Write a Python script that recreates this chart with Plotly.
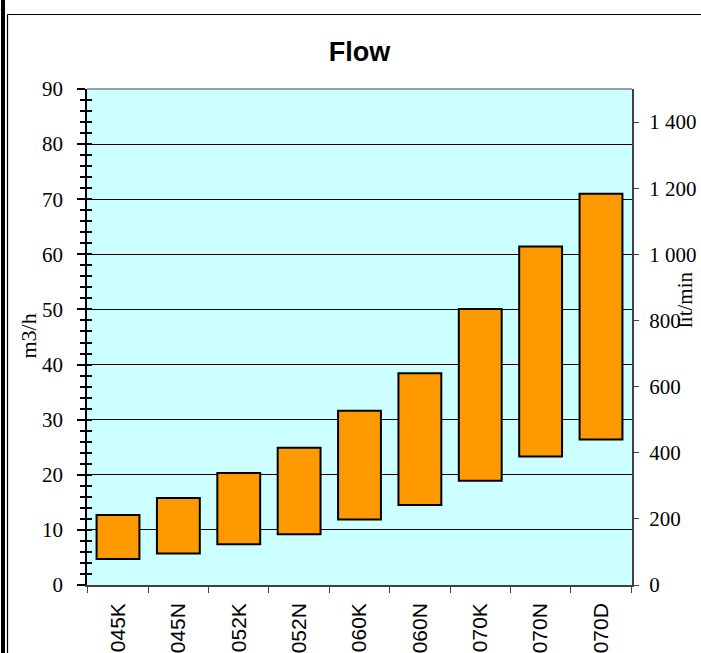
import plotly.graph_objects as go

# ---- data ----
categories = ["045K", "045N", "052K", "052N", "060K", "060N", "070K", "070N", "070D"]
flow_min = [4.7, 5.7, 7.4, 9.2, 11.9, 14.5, 18.9, 23.3, 26.4]      # m3/h
flow_max = [12.7, 15.8, 20.3, 24.9, 31.6, 38.4, 50.1, 61.4, 71.0]  # m3/h
left_range = [0, 90]
right_range = [0, 1500]  # lit/min (90 m3/h = 1500 lit/min)
right_tick_vals = [0, 200, 400, 600, 800, 1000, 1200, 1400]
right_tick_text = ["0", "200", "400", "600", "800", "1 000", "1 200", "1 400"]

W, H = 701, 653
L, R, T, B = 87, 69, 89, 68
PW, PH = W - L - R, H - T - B


def px_x(px):
    return (px - L) / PW


def px_y(py):
    return (H - B - py) / PH


SERIF = "Liberation Serif, Times New Roman, serif"
SANS = "Liberation Sans, Arial, sans-serif"

fig = go.Figure()
fig.add_trace(go.Bar(
    x=categories,
    y=[hi - lo for lo, hi in zip(flow_min, flow_max)],
    base=flow_min,
    marker=dict(color="#FF9900", line=dict(color="black", width=2)),
    showlegend=False,
    hoverinfo="skip",
))
# helper invisible traces so overlay axes are drawn
fig.add_trace(go.Scatter(x=categories, y=[None] * len(categories), yaxis="y2",
                         showlegend=False, hoverinfo="skip"))
fig.add_trace(go.Scatter(x=categories, y=[None] * len(categories), yaxis="y3",
                         showlegend=False, hoverinfo="skip"))

fig.update_layout(
    width=W, height=H,
    margin=dict(l=L, r=R, t=T, b=B, autoexpand=False),
    paper_bgcolor="white",
    plot_bgcolor="#CCFFFF",
    bargap=0.29,
    title=dict(text="<b>Flow</b>", x=0.5, xref="paper", xanchor="center",
               y=1 - 52 / H, yref="container", yanchor="middle",
               font=dict(family=SANS, size=27, color="black")),
    xaxis=dict(
        type="category", tickson="boundaries", ticks="outside", ticklen=6,
        tickcolor="#404040", tickwidth=1, showline=True, linecolor="#404040",
        linewidth=1.5, showgrid=False, tickangle=-90,
        tickfont=dict(family=SANS, size=21, color="black"),
        ticklabelstandoff=8,
    ),
    yaxis=dict(
        range=left_range, dtick=10, ticks="outside", ticklen=8, tickwidth=1.5,
        tickcolor="black", showline=True, linecolor="black", linewidth=1.5,
        showgrid=True, gridcolor="black", gridwidth=1, zeroline=False,
        tickfont=dict(family=SERIF, size=21, color="black"),
        ticklabelstandoff=10,
        minor=dict(dtick=2, ticks="outside", ticklen=5, tickwidth=1.5,
                   tickcolor="black", showgrid=False),
    ),
    yaxis3=dict(
        range=left_range, overlaying="y", side="left", dtick=2,
        ticks="inside", ticklen=5, tickwidth=1.5, tickcolor="black",
        showticklabels=False, showgrid=False, zeroline=False, showline=False,
    ),
    yaxis2=dict(
        range=right_range, overlaying="y", side="right",
        tickvals=right_tick_vals, ticktext=right_tick_text,
        ticks="outside", ticklen=5, tickwidth=1, tickcolor="#404040",
        showline=True, linecolor="#404040", linewidth=2,
        showgrid=False, zeroline=False,
        tickfont=dict(family=SERIF, size=21, color="black"),
        ticklabelstandoff=6,
    ),
)

fig.add_annotation(text="m3/h", x=px_x(27.5), y=px_y(336), xref="paper", yref="paper",
                   xanchor="center", yanchor="middle", textangle=-90, showarrow=False,
                   font=dict(family=SERIF, size=22, color="black"))
fig.add_annotation(text="lit/min", x=px_x(685), y=px_y(300), xref="paper", yref="paper",
                   xanchor="center", yanchor="middle", textangle=-90, showarrow=False,
                   font=dict(family=SERIF, size=21, color="black"))

# plot border (top line grey)
fig.add_shape(type="line", xref="paper", yref="paper", x0=0, x1=1, y0=1, y1=1,
              line=dict(color="#808080", width=1.5))
# outer chart frame
fig.add_shape(type="line", xref="paper", yref="paper",
              x0=px_x(3), x1=px_x(3), y0=px_y(0), y1=px_y(H),
              line=dict(color="black", width=4))
fig.add_shape(type="line", xref="paper", yref="paper",
              x0=px_x(7.5), x1=px_x(7.5), y0=px_y(14.5), y1=px_y(H),
              line=dict(color="black", width=1.2))
fig.add_shape(type="line", xref="paper", yref="paper",
              x0=px_x(7.5), x1=px_x(W), y0=px_y(14.5), y1=px_y(14.5),
              line=dict(color="black", width=1.2))

fig.write_html(
    "out.html",
    config={"displayModeBar": False},
    post_script="document.body.style.margin='0';document.body.style.overflow='hidden';",
)
